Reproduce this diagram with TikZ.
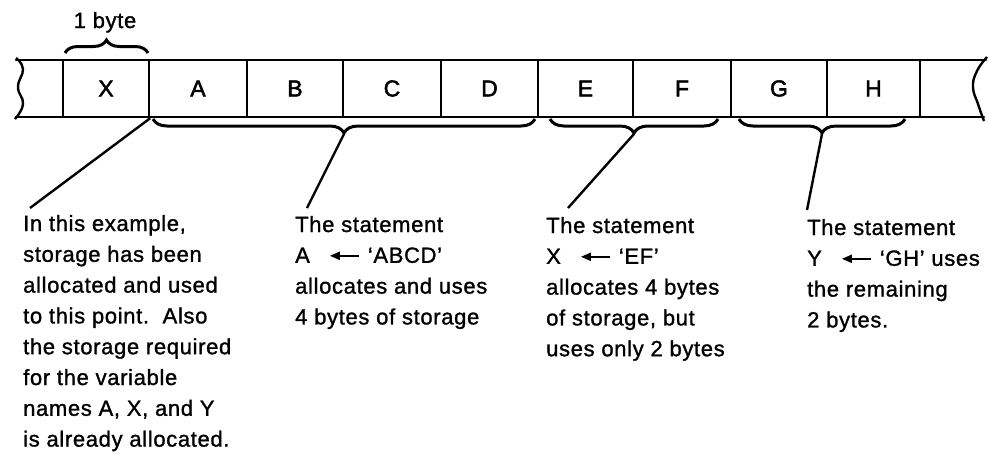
\documentclass[tikz,border=0pt]{standalone}
\usepackage{fontspec}
\setmainfont{Liberation Sans}[LetterSpace=3,FakeBold=1.2]
\newfontfamily\cellfont{Liberation Sans}[FakeBold=2.2]
\usetikzlibrary{decorations.pathreplacing,arrows.meta}
\newcommand{\larr}{\hspace{19pt}\tikz[baseline=0pt]{\draw[line width=2pt,-{Triangle[length=10pt,width=8pt]}] (29pt,7pt) -- (0pt,7pt);}\hspace{8pt}}
\newcommand{\blk}[1]{\parbox[t]{260pt}{\raggedright #1}}
\begin{document}
\begin{tikzpicture}[x=1pt,y=1pt,
  cell/.style={draw,line width=2.4pt,minimum height=57pt,inner sep=0pt,font=\cellfont\fontsize{23}{26}\selectfont},
  strip/.style={line width=2.6pt,line cap=round},
  wave/.style={line width=2.4pt},
  brc/.style={decorate,decoration={brace,amplitude=13pt},line width=3pt},
  brcd/.style={decorate,decoration={brace,mirror,amplitude=14pt},line width=3pt},
  conn/.style={line width=2.4pt},
  txt/.style={anchor=base west,inner sep=0pt,font=\fontsize{22}{30.8}\selectfont}]
\useasboundingbox (0,0) rectangle (989,-455);
% strip outline
\draw[strip] (16,-60) -- (986,-60);
\draw[strip] (16,-117) -- (984,-117);
\draw[wave] plot[smooth,tension=0.8] coordinates {(16,-58) (23,-69) (18,-87) (23,-104) (15,-119)};
\draw[wave] plot[smooth,tension=0.8] coordinates {(987,-57) (977,-71) (973,-87) (978,-104) (984,-121)};
% cells
\node[cell,minimum width=86pt] (cX) at (106,-88.5) {X};
\node[cell,minimum width=98pt] (cA) at (198,-88.5) {A};
\node[cell,minimum width=96pt] (cB) at (295,-88.5) {B};
\node[cell,minimum width=98pt] (cC) at (392,-88.5) {C};
\node[cell,minimum width=97pt] (cD) at (489.5,-88.5) {D};
\node[cell,minimum width=95pt] (cE) at (585.5,-88.5) {E};
\node[cell,minimum width=98pt] (cF) at (682,-88.5) {F};
\node[cell,minimum width=96pt] (cG) at (779,-88.5) {G};
\node[cell,minimum width=93pt] (cH) at (873.5,-88.5) {H};
% top brace
\draw[brc] (65,-53) -- (148,-53);
\node[txt,anchor=base] (byte) at (105,-28) {1 byte};
% bottom braces
\draw[brcd] (153,-119) -- (535,-119);
\draw[brcd] (550,-119) -- (718,-119);
\draw[brcd] (739,-119) -- (905,-119);
\coordinate (tAD) at (344,-134);
\coordinate (tEF) at (634,-134);
\coordinate (tGH) at (822,-134);
% texts
\node[txt] (t1) at (23,-231) {\blk{In this example,\\storage has been\\allocated and used\\to this point.\ \ Also\\the storage required\\for the variable\\names A, X, and Y\\is already allocated.}};
\node[txt] (t2) at (295,-232) {\blk{The statement\\A\larr‘ABCD’\\allocates and uses\\4 bytes of storage}};
\node[txt] (t3) at (546,-233) {\blk{The statement\\X\larr‘EF’\\allocates 4 bytes\\of storage, but\\uses only 2 bytes}};
\node[txt] (t4) at (807,-235) {\blk{The statement\\Y\larr‘GH’ uses\\the remaining\\2 bytes.}};
% connectors
\coordinate (e1) at (30,-208);
\coordinate (e2) at (307,-208);
\coordinate (e3) at (568,-208);
\coordinate (e4) at (807,-210);
\draw[conn] (cX.south east) -- (e1);
\draw[conn] (tAD) -- (e2);
\draw[conn] (tEF) -- (e3);
\draw[conn] (tGH) -- (e4);
\end{tikzpicture}
\end{document}
